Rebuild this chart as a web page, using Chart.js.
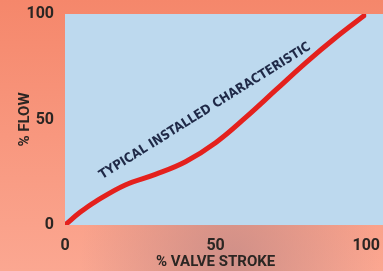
<!DOCTYPE html>
<html>
<head>
<meta charset="utf-8">
<script src="https://cdn.jsdelivr.net/npm/chart.js@4/dist/chart.umd.min.js"></script>
<style>
	html, body { margin: 0; padding: 0; }
	#wrap { width: 383px; height: 271px; }
</style>
</head>
<body>
<div id="wrap"><canvas id="myChart" width="383" height="271"></canvas></div>
<script>
var stroke = [0, 5, 10, 20, 30, 40, 50, 60, 70, 80, 90, 100];
var flow = [0, 6, 11, 19, 24, 30, 39, 51, 64, 77, 89, 100];
var tickValues = [0, 50, 100];
var curveLabel = "TYPICAL INSTALLED CHARACTERISTIC";

var font = "'Roboto', sans-serif";

// background, plot panel and the slanted label
var decor = {
	id: "decor",
	beforeDraw: function (c) {
		var ctx = c.ctx;
		var a = c.chartArea;
		ctx.save();
		var g = ctx.createLinearGradient(0, 0, 0, c.height);
		g.addColorStop(0, "#f5876b");
		g.addColorStop(1, "#fba791");
		ctx.fillStyle = g;
		ctx.fillRect(0, 0, c.width, c.height);
		var r = ctx.createRadialGradient(230, 260, 10, 230, 260, 150);
		r.addColorStop(0, "rgba(200,140,135,0.8)");
		r.addColorStop(1, "rgba(200,140,135,0)");
		ctx.fillStyle = r;
		ctx.fillRect(0, a.bottom, c.width, c.height - a.bottom);
		ctx.fillStyle = "#bdd9ee";
		ctx.fillRect(a.left, a.top, c.width - a.left, a.bottom - a.top);
		ctx.restore();
	},
	afterDatasetsDraw: function (c) {
		var ctx = c.ctx;
		var px = c.scales.x.getPixelForValue(46.5);
		var py = c.scales.y.getPixelForValue(54);
		ctx.save();
		ctx.translate(px, py);
		ctx.rotate(-32 * Math.PI / 180);
		ctx.fillStyle = "#1f2947";
		ctx.font = "bold 13px 'DejaVu Sans Condensed', " + font;
		ctx.textAlign = "center";
		ctx.textBaseline = "middle";
		ctx.fillText(curveLabel, 0, 0);
		ctx.restore();
	}
};

var ctx = document.getElementById("myChart").getContext("2d");

var chart = new Chart(ctx, {
	type: "line",
	data: {
		labels: stroke,
		datasets: [{
			data: stroke.map((s, i) => ({ x: s, y: flow[i] })),
			borderColor: "#e4211d",
			borderWidth: 5,
			pointRadius: 0,
			fill: false,
			tension: 0.4,
		}],
	},
	options: {
		responsive: false,
		animation: false,
		layout: { padding: { top: 14, right: 5, left: 0, bottom: 0 } },
		plugins: {
			legend: { display: false },
			tooltip: { enabled: false },
		},
		scales: {
			x: {
				type: "linear",
				min: 0,
				max: 100,
				afterFit: function (s) { s.height = 46; },
				afterBuildTicks: function (s) { s.ticks = tickValues.map((v) => ({ value: v })); },
				grid: { display: false },
				border: { display: false },
				ticks: { color: "#2b2623", padding: 3, font: { family: font, size: 16, weight: "bold" } },
				title: {
					display: true,
					text: "% VALVE STROKE",
					color: "#2b2623",
					padding: { top: 0, bottom: 0 },
					font: { family: font, size: 15, weight: "bold" },
				},
			},
			y: {
				min: 0,
				max: 100,
				afterFit: function (s) { s.width = 65; },
				afterBuildTicks: function (s) { s.ticks = tickValues.map((v) => ({ value: v })); },
				grid: { display: false },
				border: { display: false },
				ticks: { color: "#2b2623", padding: 3, font: { family: font, size: 16, weight: "bold" } },
				title: {
					display: true,
					text: "% FLOW",
					color: "#2b2623",
					padding: { top: 16, bottom: 0 },
					font: { family: font, size: 15, weight: "bold" },
				},
			},
		},
	},
	plugins: [decor],
});
</script>
</body>
</html>
